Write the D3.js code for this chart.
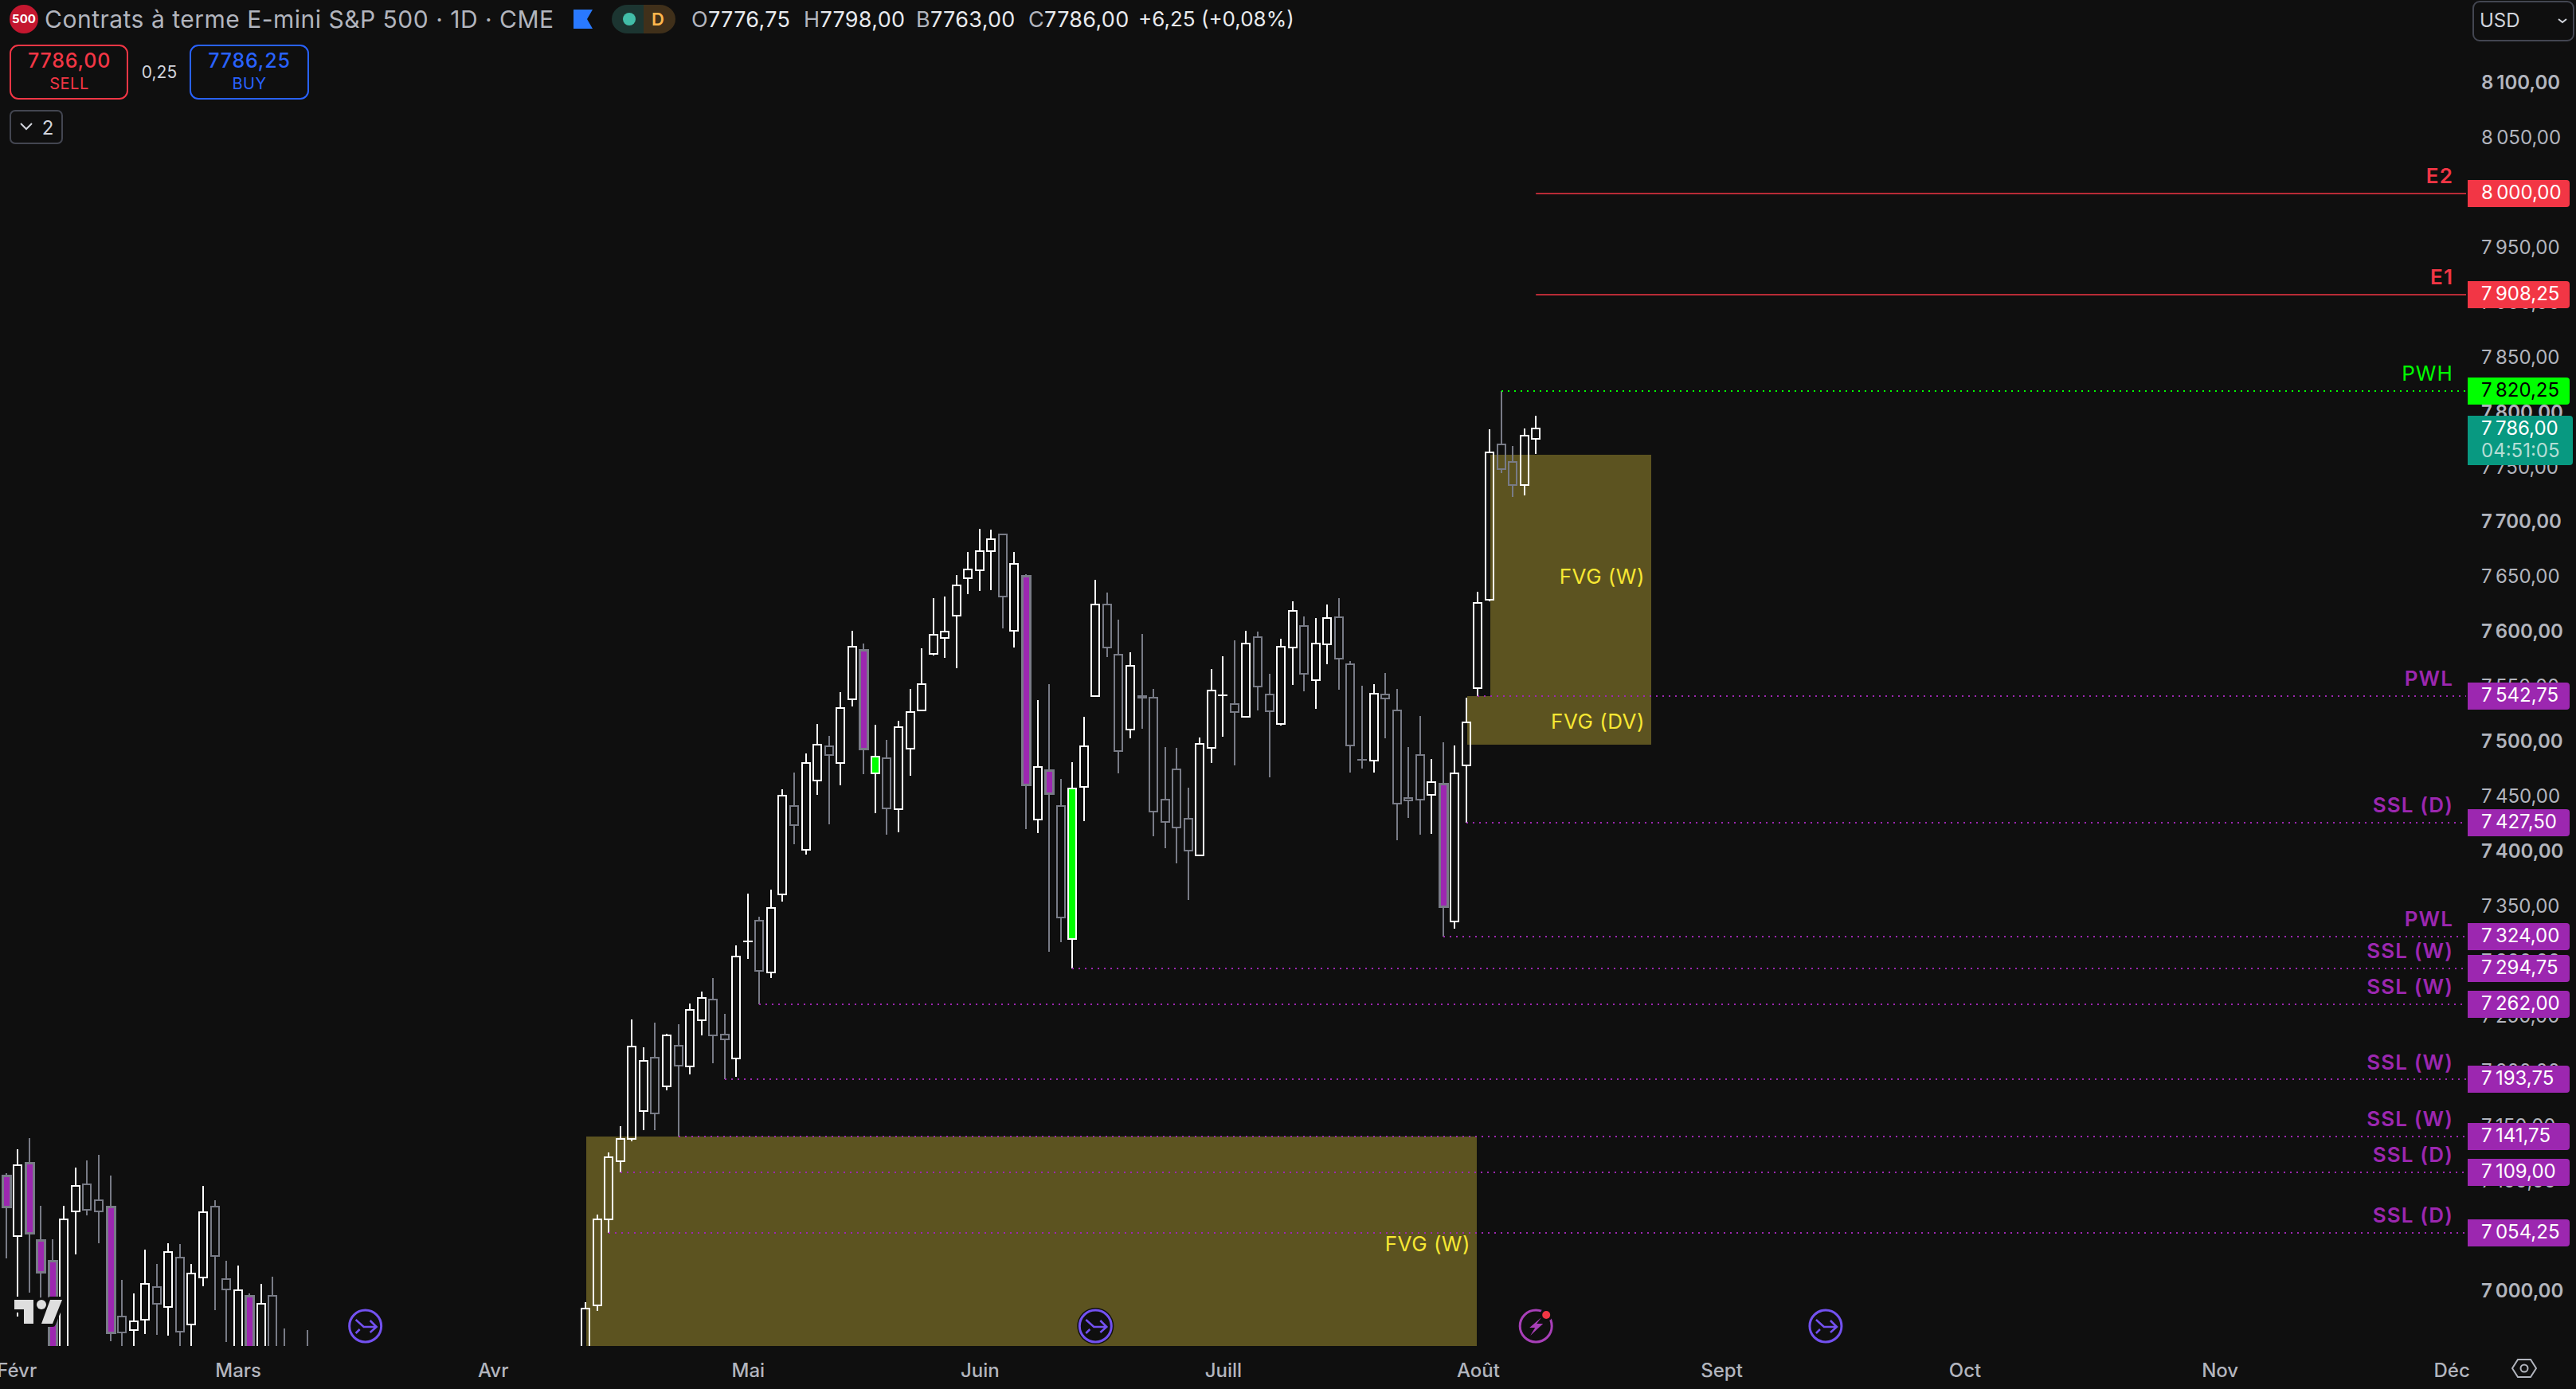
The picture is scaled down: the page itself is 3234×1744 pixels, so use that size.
<!DOCTYPE html>
<html><head><meta charset="utf-8"><title>Contrats à terme E-mini S&amp;P 500</title>
<script src="https://cdn.jsdelivr.net/npm/d3@7/dist/d3.min.js"></script>
<style>html,body{margin:0;padding:0;background:#0f0f0f;overflow:hidden}svg{display:block}text{font-family:Inter,"Noto Sans",sans-serif}</style>
</head><body><svg id="c" width="3234" height="1744"></svg>
<script>
// ---- sessions (index = trading session; null = session below the visible price range)
const gap23 = [null,null,null,null,null,null,null,null,null,null,null,null,null,null,null,null,null,null,null,null,null,null,null];
const opens = [7106,7051.4,7117.6,7047.3,7028.4,6940,7073.4,7098,7084,7077.7,6978.2,6965.6,6975.3,7004.5,6986.9,7031.3,6970.9,7013.2,7077.7,7011.8,6940,6996.5,6940,6996.5,6945,null,6945,
 ...gap23,
 6940,6987.8,7066.1,7119.5,7139.6,7164.7,7213.3,7187.2,7224.6,7205.3,7247.3,7266.7,7234.8,7212.5,7319,7338.4,7290.8,
 7362.3,7442.2,7402.4,7465.7,7497.2,7481.5,7539.4,7584.4,7472,7485.8,7439.6,7494.4,7529.3,7581,7595.3,7615.6,7649.7,7656.9,7674.4,7690.1,7601.9,7651.7,7429.9,7474.9,7442.2,7321.3,7459.7,7542.8,7625.6,7580.4,7511.8,7542.25,7540.8,7448.6,7475.6,7430.8,7397.4,7495.5,7543.4,7535.6,7523.4,7596.5,7544.2,7517,7586.6,7606.6,7556.9,7589.5,7614.6,7571.9,7484.7,7483.6,7544.2,7529.7,7449.9,7489.1,7452.6,7463.2,7337.7,7479.4,7549.6,7630.5,7771.4,7755.9,7734.8,7776.75];
const closes = [7078.2,7115.4,7054.3,7018.8,6940,7066.1,7096.5,7074.8,7073.4,6963.7,6963.7,6973.3,7007.4,6989.8,7036.4,6964.4,7016.8,7072.6,7032.8,7002.3,7001.6,6940,6989.3,6940,6935,null,6935,
 ...gap23,
 6984.9,7066.6,7122.6,7139.6,7223.4,7210.4,7162.5,7233.6,7206,7256.8,7268.1,7233.6,7230.2,7305.8,7319.25,7292.3,7349.5,
 7451.7,7425,7481.5,7498.7,7489,7531.4,7587.2,7494.4,7487.5,7440.2,7514.2,7527.9,7553.1,7598.4,7601.6,7643.4,7657.5,7674.7,7685.5,7633.4,7662.6,7462.3,7477.8,7454.5,7341,7458.3,7497.2,7625.6,7586.7,7492.4,7570.3,7541.25,7437.5,7427.9,7423,7401.8,7499.4,7548,7543.5,7527.9,7590.5,7551.2,7528.6,7587.7,7619.8,7562.6,7590.5,7613.8,7577,7497.3,7484.5,7545,7540.3,7444.8,7447.3,7448.2,7464.3,7351.1,7472,7519,7627.6,7764.7,7748.9,7734.5,7779.4,7786];
const highs = [7108.1,7129.9,7140,7078.7,7048.2,7078.7,7113.5,7120,7125,7106.2,7011.3,6998.9,7038.8,7025.8,7044.6,7043.6,7025.8,7096.8,7083.7,7028.7,7024.3,6998.9,7007.6,7014.2,6967,null,6965.6,
 ...gap23,
 6991,7070.5,7127.2,7151.2,7248.3,7223,7245.4,7235,7244,7262.8,7273.7,7286,7253.4,7315.7,7362.8,7341.8,7366.4,
 7457.7,7472.9,7490.4,7517.3,7506.4,7546.3,7602.1,7590.4,7516.4,7502.7,7520.2,7549.1,7586.1,7631.7,7633.1,7652.9,7673.8,7694.7,7694.1,7690.1,7673.8,7653.4,7539.1,7553.4,7467.2,7482.3,7523.6,7648.3,7636.9,7612.3,7582.2,7599,7549.1,7496.3,7495.5,7459.3,7504.8,7567.2,7578.9,7593.4,7601.9,7601.4,7562.8,7594.7,7628.8,7615.1,7613.6,7626,7631.7,7574.5,7551.9,7553.5,7563.6,7549.1,7496.3,7524.4,7485.2,7500.4,7497.6,7541.2,7637.5,7785.4,7820,7770,7786.1,7798];
const lows = [7030.8,6977.7,7000,6994.6,6930,6930,7034.5,7070,7044.6,6955.5,6940,6940,6962,6961.3,6960.8,6940,6940,7005.5,6983.7,6954.7,6930,6930,6930,6930,6925,null,6925,
 ...gap23,
 6930,6983,7054,7109.1,7137.6,7147.6,7147.6,7183.8,7141.8,7198.3,7233.8,7208.4,7194,7196.1,7303.4,7262.1,7286,
 7355.7,7407.8,7398.4,7452.8,7425.9,7461.4,7533.1,7471.5,7435.9,7416.4,7418.7,7470,7529.3,7579.5,7577.5,7568,7635.4,7638.3,7639.1,7604.2,7586.7,7421.6,7417.9,7309.8,7318.7,7294.6,7428.8,7542,7578.3,7472.2,7504,7512.8,7415,7404.1,7390.4,7357,7397.4,7481.8,7505.6,7479.4,7523.4,7529.4,7468.6,7515.7,7552.7,7547,7531,7571.6,7548.3,7473,7476.6,7473,7504,7411.3,7431.6,7416.4,7417.1,7323.7,7331,7427.3,7542.5,7629.1,7745.7,7723.9,7725.3,7763];
const purpleSessions = [0,2,3,4,9,21,74,88,90,124];
const greenSessions = [75,92];

// ---- axes
const priceTicks = [8100,8050,8000,7950,7900,7850,7800,7750,7700,7650,7600,7550,7500,7450,7400,7350,7300,7250,7200,7150,7100,7050,7000];
const boldTicks = [8100,7800,7700,7600,7500,7400,7000];
const monthNames = ["Févr","Mars","Avr","Mai","Juin","Juill","Août","Sept","Oct","Nov","Déc"];
const monthSessions = [0.9,20,42,64,84,105,127,148,169,191,211];

// ---- horizontal levels
const levelPrices = [8000,7908.25,7820.25,7542.75,7427.5,7324,7294.75,7262,7193.75,7141.75,7109,7054.25];
const levelNames = ["E2","E1","PWH","PWL","SSL (D)","PWL","SSL (W)","SSL (W)","SSL (W)","SSL (W)","SSL (D)","SSL (D)"];
const levelStarts = [132,132,129,127,126,124,92,65,62,58,53,52];
const levelKinds = ["target","target","high","low","low","low","low","low","low","low","low","low"];

// ---- fair value gap zones
const zoneNames = ["FVG (W)","FVG (W)","FVG (DV)"];
const zoneTops = [7762.2,7141.4,7542.5];
const zoneBottoms = [7542.75,6900,7498.7];
const zoneStarts = [128.1,50.05,126.05];
const zoneEnds = [141.95,126.9,141.95];
const zoneLabelPrices = [7651.5,7044,7519.5];

// ---- current quote
const lastPrice = 7786, bidPrice = 7786, askPrice = 7786.25, spreadText = "0,25", countdown = "04:51:05";
const ohlcLabels = ["O","H","B","C"];
const ohlcValues = ["7776,75","7798,00","7763,00","7786,00"];
const changeText = "+6,25 (+0,08%)";
const titleText = "Contrats à terme E-mini S&P 500 · 1D · CME";
const eventSessions = [31,94,132,157];

// ---- style
const BG="#0f0f0f",UP="#ffffff",DOWN="#787b86",PURPLE="#9c27b0",GREEN="#00ff00",RED="#f23645",TEAL="#089981",
      ZONE="#5c5320",ZONETXT="#f7e733",AXIS="#b2b5be",EVT="#7351f0";
const plotR=3096, plotB=1690;

const svg=d3.select("#c");
svg.append("rect").attr("width",3234).attr("height",1744).attr("fill",BG);
svg.append("defs").append("clipPath").attr("id","plot").append("rect").attr("width",plotR).attr("height",plotB);

const x=d3.scaleLinear().domain([0,132]).range([7.6,1928.2]);
const y=d3.scaleLinear().domain([8000,7000]).range([243,1622.5]);
const fr=d3.formatLocale({decimal:",",thousands:"\u2009",grouping:[3],currency:["",""]});
const fmt=fr.format(",.2f");

const plot=svg.append("g").attr("clip-path","url(#plot)");

// zones
plot.append("g").selectAll("rect").data(zoneNames).join("rect")
 .attr("x",(d,i)=>x(zoneStarts[i])).attr("width",(d,i)=>x(zoneEnds[i])-x(zoneStarts[i]))
 .attr("y",(d,i)=>y(zoneTops[i])).attr("height",(d,i)=>y(zoneBottoms[i])-y(zoneTops[i]))
 .attr("fill",ZONE).attr("shape-rendering","crispEdges");

// candles
const sessions=d3.range(opens.length).filter(i=>opens[i]!==null);
const cg=plot.append("g").attr("shape-rendering","crispEdges");
const col=i=>closes[i]>=opens[i]?UP:DOWN;
const cx=i=>Math.round(x(i));
const topOf=i=>Math.round(y(Math.max(opens[i],closes[i])));
const botOf=i=>Math.round(y(Math.min(opens[i],closes[i])));
cg.selectAll("rect.wh").data(sessions).join("rect").attr("class","wh")
 .attr("x",i=>cx(i)-1).attr("width",2).attr("y",i=>y(highs[i])).attr("height",i=>Math.max(0,topOf(i)-y(highs[i]))).attr("fill",col);
cg.selectAll("rect.wl").data(sessions).join("rect").attr("class","wl")
 .attr("x",i=>cx(i)-1).attr("width",2).attr("y",botOf).attr("height",i=>Math.max(0,y(lows[i])-botOf(i))).attr("fill",col);
cg.selectAll("rect.b").data(sessions).join("rect").attr("class","b")
 .attr("x",i=>cx(i)-5).attr("width",10).attr("y",topOf).attr("height",i=>Math.max(0.01,botOf(i)-topOf(i)))
 .attr("fill",i=>purpleSessions.includes(i)?PURPLE:greenSessions.includes(i)?GREEN:"none")
 .attr("stroke",col).attr("stroke-width",i=>purpleSessions.includes(i)?3:2);

// levels
const lvl=svg.append("g");
lvl.selectAll("line").data(levelPrices).join("line")
 .attr("x1",(d,i)=>x(levelStarts[i])).attr("x2",plotR)
 .attr("y1",d=>Math.round(y(d))).attr("y2",d=>Math.round(y(d)))
 .attr("stroke",(d,i)=>levelKinds[i]==="target"?RED:levelKinds[i]==="high"?GREEN:PURPLE)
 .attr("stroke-width",(d,i)=>levelKinds[i]==="target"?1.4:2).attr("stroke-dasharray",(d,i)=>levelKinds[i]==="target"?null:"2 6")
 .attr("shape-rendering",(d,i)=>levelKinds[i]==="target"?"auto":"crispEdges");
lvl.selectAll("text").data(levelPrices).join("text")
 .attr("x",3080).attr("y",d=>y(d)-22).attr("dy","0.36em").attr("text-anchor","end")
 .attr("font-size",26).attr("font-weight",(d,i)=>levelNames[i]==="PWH"?400:600)
 .attr("letter-spacing",1.1)
 .attr("fill",(d,i)=>levelKinds[i]==="target"?RED:levelKinds[i]==="high"?GREEN:PURPLE)
 .text((d,i)=>levelNames[i]);

// zone labels
svg.append("g").selectAll("text").data(zoneNames).join("text")
 .attr("x",(d,i)=>x(zoneEnds[i])-8).attr("y",(d,i)=>y(zoneLabelPrices[i]))
 .attr("dy","0.36em").attr("text-anchor","end").attr("font-size",26).attr("letter-spacing",0.5).attr("fill",ZONETXT).text(d=>d);

// price axis
const yAxis=d3.axisRight(y).tickValues(priceTicks).tickSize(0).tickPadding(0).tickFormat(fmt);
const yg=svg.append("g").attr("transform","translate(3115,-2.5)").call(yAxis);
yg.select(".domain").remove();
yg.selectAll("text").attr("fill",AXIS).attr("font-size",24).attr("dy","0.36em")
 .attr("font-weight",d=>boldTicks.includes(d)?600:400).style("font-family","Inter");

// time axis
const xAxis=d3.axisBottom(x).tickValues(monthSessions).tickSize(0).tickPadding(0).tickFormat((d,i)=>monthNames[i]);
const xg=svg.append("g").attr("transform","translate(0,1712)").call(xAxis);
xg.select(".domain").remove();
xg.selectAll("text").attr("fill",AXIS).attr("font-size",24).attr("font-weight",500).style("font-family","Inter");

// price tags
const tags=svg.append("g");
tags.selectAll("g").data(levelPrices).join("g").each(function(d,i){
  const g=d3.select(this),c=Math.round(y(d)),tall=17;
  const f=levelKinds[i]==="target"?RED:levelKinds[i]==="high"?GREEN:PURPLE;
  g.append("rect").attr("x",3098).attr("y",c-tall).attr("width",128).attr("height",tall*2).attr("rx",4).attr("fill",f);
  g.append("rect").attr("x",3098).attr("y",c-tall).attr("width",20).attr("height",tall*2).attr("fill",f);
  g.append("text").attr("x",3115).attr("y",c-1.5).attr("dy","0.36em").attr("font-size",24)
   .attr("fill",levelKinds[i]==="high"?"#000":"#fff").text(fmt(d));
});
const ly=Math.round(y(lastPrice));
tags.append("rect").attr("x",3098).attr("y",ly-16).attr("width",132).attr("height",62).attr("rx",4).attr("fill",TEAL);
tags.append("rect").attr("x",3098).attr("y",ly-16).attr("width",20).attr("height",62).attr("fill",TEAL);
tags.append("text").attr("x",3115).attr("y",ly-1).attr("dy","0.36em").attr("font-size",24).attr("fill","#fff").text(fmt(lastPrice));
tags.append("text").attr("x",3115).attr("y",ly+27).attr("dy","0.36em").attr("font-size",24).attr("fill","#b5ded5").text(countdown);

// TV logo
const logo=svg.append("g");
const logoT="M18,1632H42V1662H30V1644H18Z", logoS="M63,1632H78L66,1662H52Z";
logo.append("path").attr("d",logoT+logoS).attr("fill",BG).attr("stroke",BG).attr("stroke-width",8).attr("stroke-linejoin","round");
logo.append("circle").attr("cx",52).attr("cy",1638).attr("r",9).attr("fill",BG);
logo.append("path").attr("d",logoT+logoS).attr("fill","#dedede");
logo.append("circle").attr("cx",52).attr("cy",1638).attr("r",6).attr("fill","#dedede");

// events
const evY=1665;
const ev=svg.append("g").selectAll("g").data(eventSessions).join("g").attr("transform",d=>`translate(${x(d)},${evY})`);
ev.each(function(d,i){
  const g=d3.select(this), bolt=i===2, c=bolt?"#a83fb8":EVT;
  g.append("circle").attr("r",23).attr("fill",BG).attr("opacity",i===1?1:0);
  g.append("circle").attr("r",20).attr("fill",BG).attr("stroke",c).attr("stroke-width",3);
  if(bolt){
    g.append("path").attr("d","M7,-11L-8,2H-1L-7,12L9,-3H1Z").attr("fill",c);
    g.append("circle").attr("cx",13).attr("cy",-14).attr("r",8).attr("fill",BG);
    g.append("circle").attr("cx",13).attr("cy",-14).attr("r",5).attr("fill",RED);
  }else{
    g.append("path").attr("fill","none").attr("stroke",c).attr("stroke-width",2.5)
     .attr("d","M-12,-8L-2,1H13M6,-7L14,1L6,8M-12,9L-7,4");
  }
});

// eye
const eye=svg.append("g").attr("transform","translate(3169,1718)");
eye.append("path").attr("d","M-15,0L-8,-11H8L15,0L8,11H-8Z").attr("fill","none").attr("stroke",AXIS).attr("stroke-width",2);
eye.append("circle").attr("r",4.5).attr("fill","none").attr("stroke",AXIS).attr("stroke-width",2);

// header
const h=svg.append("g");
h.append("circle").attr("cx",30).attr("cy",24).attr("r",18).attr("fill","#c4172f");
h.append("text").attr("x",30).attr("y",24).attr("dy","0.36em").attr("text-anchor","middle").attr("font-size",15).attr("font-weight",700).attr("fill","#fff").text("500");
h.append("text").attr("x",56).attr("y",24).attr("dy","0.36em").attr("font-size",30).attr("letter-spacing",0.5).attr("fill",AXIS).text(titleText);
h.append("path").attr("d","M720,12H744L737,24L744,36H720Z").attr("fill","#2979ff");
h.append("path").attr("d","M808,6H788A20,18 0 0 0 788,42H808Z").attr("fill","#1c3531");
h.append("path").attr("d","M808,6H828A20,18 0 0 1 828,42H808Z").attr("fill","#40301a");
h.append("circle").attr("cx",790).attr("cy",24).attr("r",8).attr("fill","#42bda8");
h.append("text").attr("x",826).attr("y",24).attr("dy","0.36em").attr("text-anchor","middle").attr("font-size",22).attr("font-weight",600).attr("fill","#ffb74d").text("D");
const ohlcX=[868,1009,1150,1291];
ohlcLabels.forEach((l,i)=>{
  const t=h.append("text").attr("x",ohlcX[i]).attr("y",24).attr("dy","0.36em").attr("font-size",27).attr("letter-spacing",0.3);
  t.append("tspan").attr("fill",AXIS).text(l);
  t.append("tspan").attr("fill","#e8eaee").text(ohlcValues[i]);
});
h.append("text").attr("x",1429).attr("y",24).attr("dy","0.36em").attr("font-size",26).attr("fill","#e8eaee").text(changeText);
// order buttons
h.append("rect").attr("x",13).attr("y",57).attr("width",147).attr("height",67).attr("rx",10).attr("fill","none").attr("stroke",RED).attr("stroke-width",2);
h.append("rect").attr("x",239).attr("y",57).attr("width",148).attr("height",67).attr("rx",10).attr("fill","none").attr("stroke","#2962ff").attr("stroke-width",2);
const bidText=bidPrice.toFixed(2).replace(".",","), askText=askPrice.toFixed(2).replace(".",",");
h.append("text").attr("x",87).attr("y",76).attr("dy","0.36em").attr("text-anchor","middle").attr("font-size",25).attr("letter-spacing",0.8).attr("font-weight",500).attr("fill",RED).text(bidText);
h.append("text").attr("x",87).attr("y",105).attr("dy","0.36em").attr("text-anchor","middle").attr("font-size",20).attr("letter-spacing",0.5).attr("fill",RED).text("SELL");
h.append("text").attr("x",313).attr("y",76).attr("dy","0.36em").attr("text-anchor","middle").attr("font-size",25).attr("letter-spacing",0.8).attr("font-weight",500).attr("fill","#2962ff").text(askText);
h.append("text").attr("x",313).attr("y",105).attr("dy","0.36em").attr("text-anchor","middle").attr("font-size",20).attr("letter-spacing",0.5).attr("fill","#2962ff").text("BUY");
h.append("text").attr("x",200).attr("y",90).attr("dy","0.36em").attr("text-anchor","middle").attr("font-size",21).attr("fill","#d1d4dc").text(spreadText);
// collapse
h.append("rect").attr("x",13).attr("y",139).attr("width",65).attr("height",41).attr("rx",6).attr("fill","none").attr("stroke","#434651").attr("stroke-width",2);
h.append("path").attr("d","M26,155L33,162L40,155").attr("fill","none").attr("stroke","#d1d4dc").attr("stroke-width",2);
h.append("text").attr("x",60).attr("y",160).attr("dy","0.36em").attr("text-anchor","middle").attr("font-size",24).attr("fill","#d1d4dc").text("2");
// currency
h.append("rect").attr("x",3105).attr("y",2).attr("width",126).attr("height",49).attr("rx",8).attr("fill","none").attr("stroke","#434651").attr("stroke-width",2);
h.append("text").attr("x",3113).attr("y",25).attr("dy","0.36em").attr("font-size",24).attr("fill","#d1d4dc").text("USD");
h.append("path").attr("d","M3212,24L3217,28L3222,24").attr("fill","none").attr("stroke","#d1d4dc").attr("stroke-width",2);
</script></body></html>
